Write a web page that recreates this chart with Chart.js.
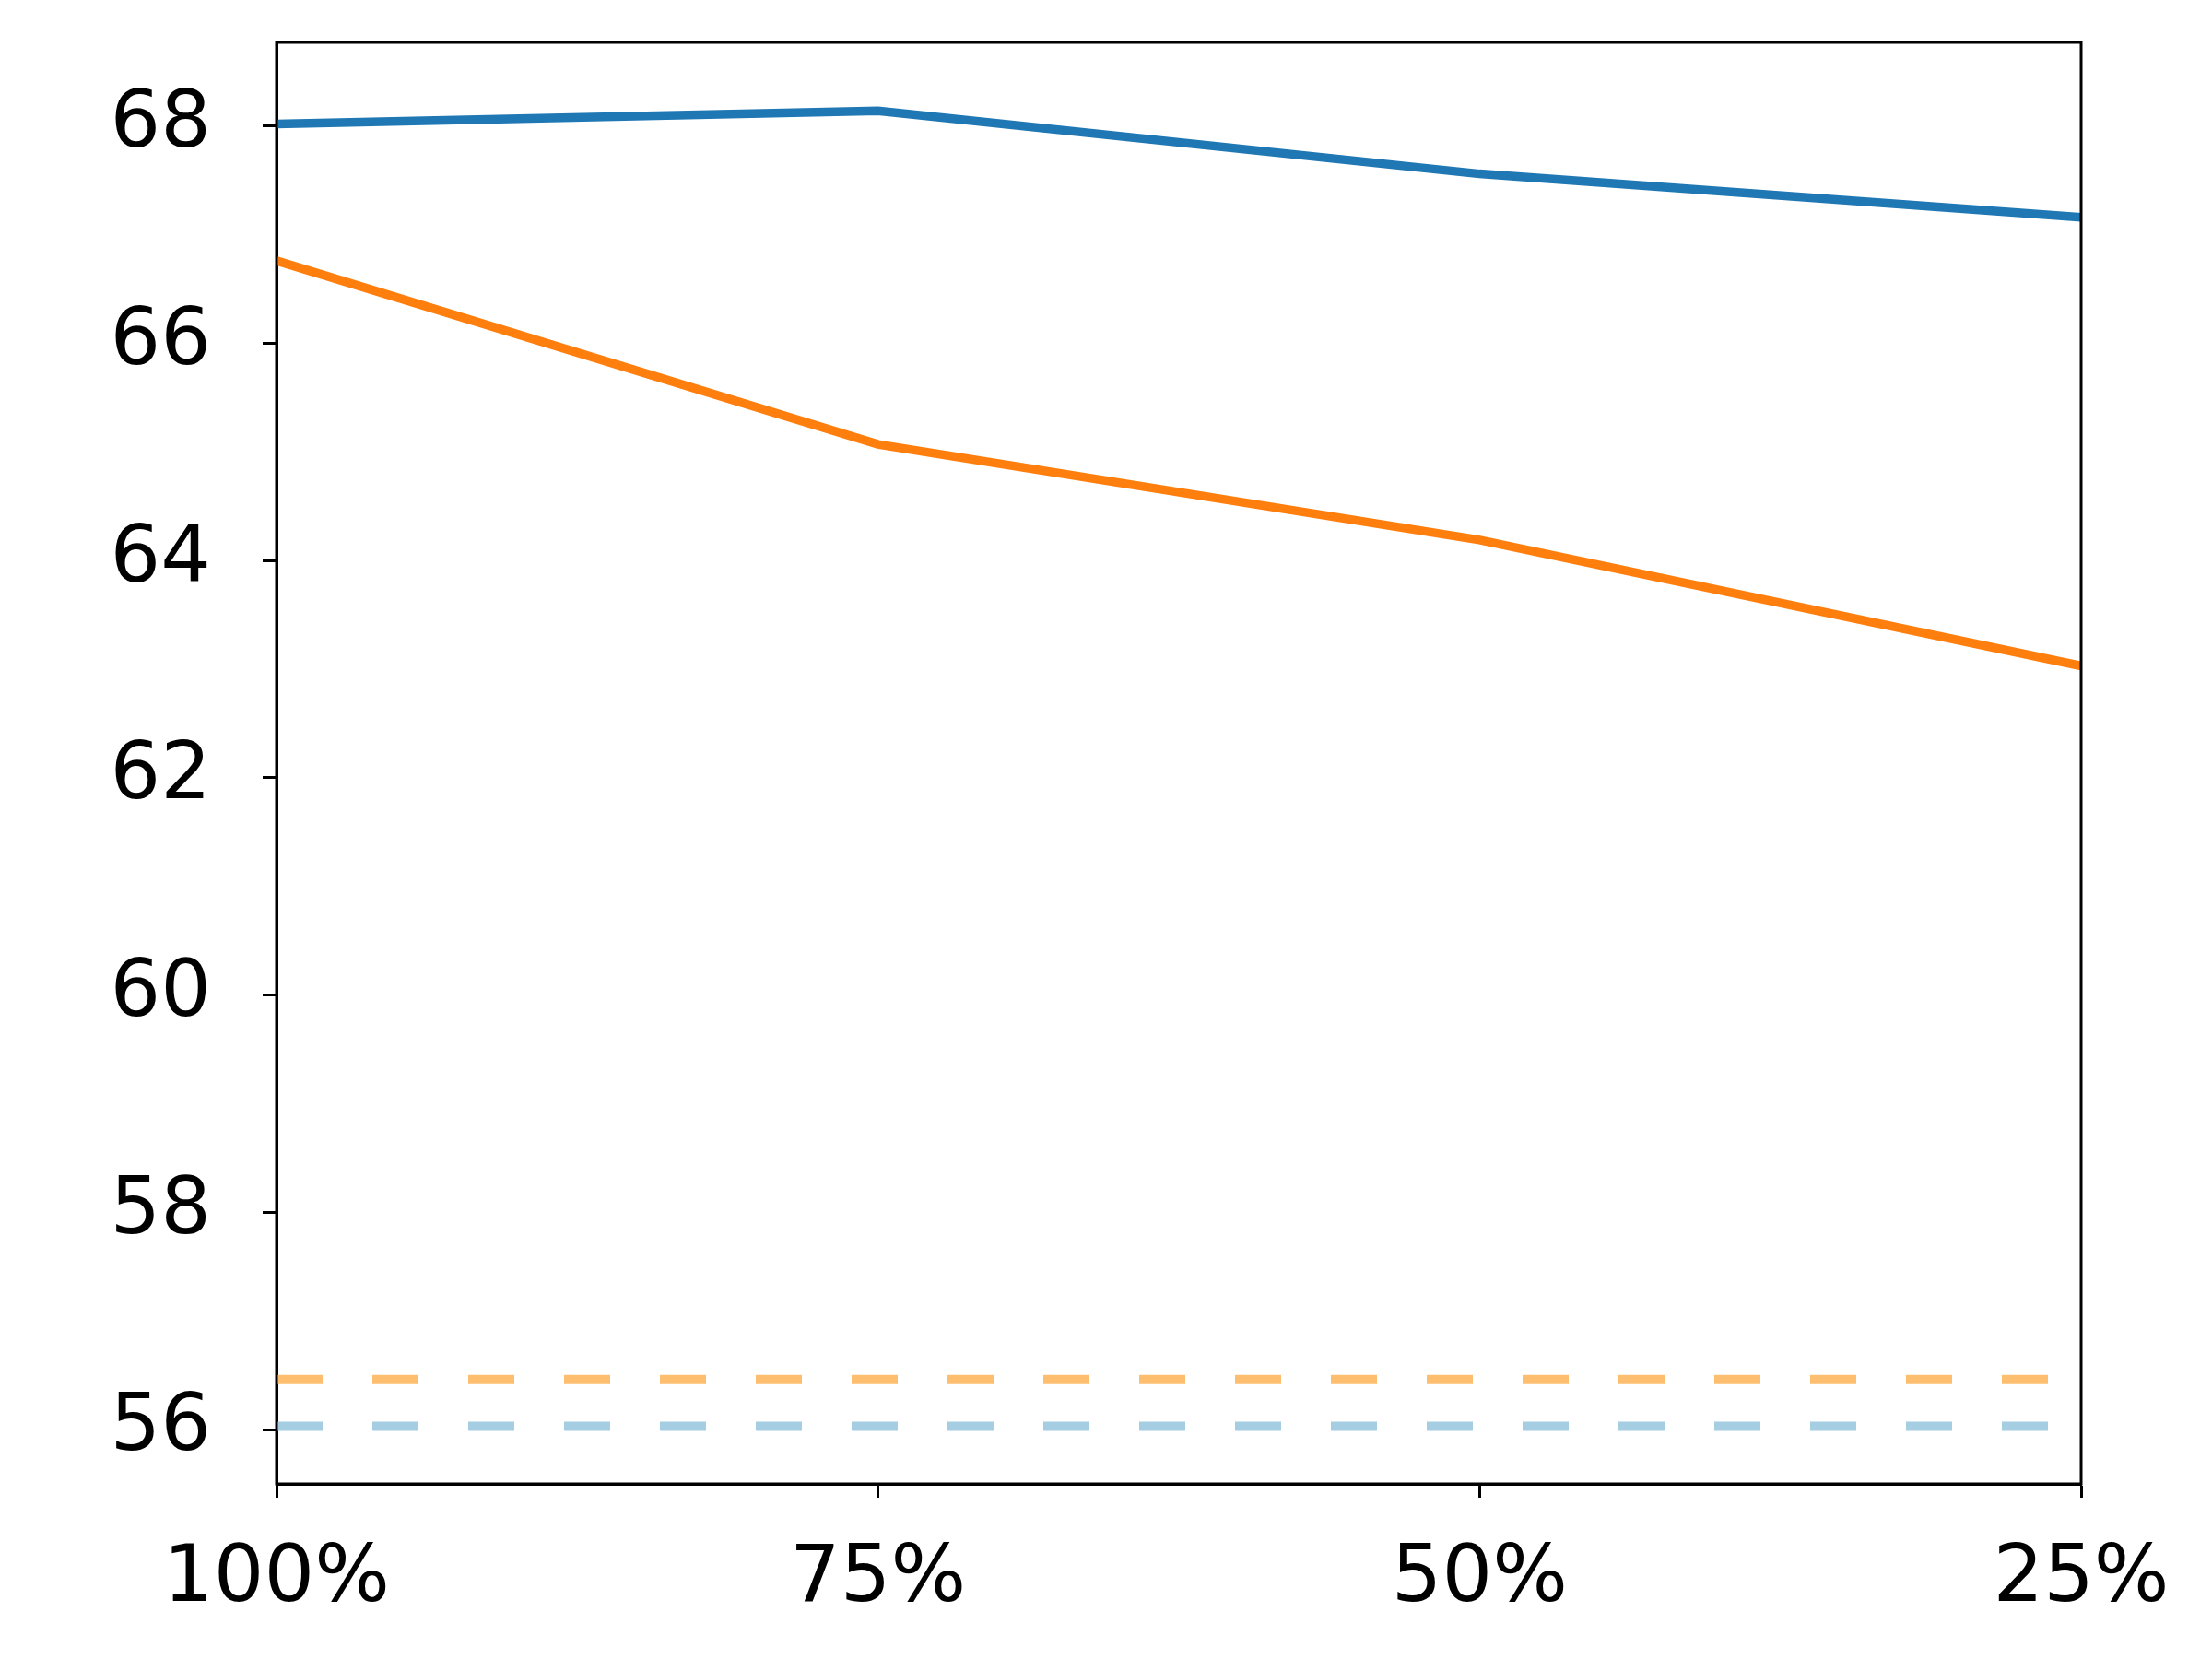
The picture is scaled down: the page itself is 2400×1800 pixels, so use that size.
<!DOCTYPE html>
<html>
<head>
<meta charset="utf-8">
<script src="https://cdn.jsdelivr.net/npm/chart.js@4/dist/chart.umd.min.js"></script>
<style>
  html, body { margin: 0; padding: 0; background: #fff; }
  #wrap { width: 2400px; height: 1800px; }
</style>
</head>
<body>
<div id="wrap"><canvas id="myChart1" width="2400" height="1800"></canvas></div>
<script>
// values
const labels = ['100%', '75%', '50%', '25%']
const blueLine = [68.02, 68.14, 67.56, 67.16]
const orangeLine = [66.76, 65.07, 64.19, 63.03]
const orangeBase = [56.46, 56.46, 56.46, 56.46]
const blueBase = [56.03, 56.03, 56.03, 56.03]
const yTicks = [56, 58, 60, 62, 64, 66, 68]

// draws the box around the plot area (top + right sides)
const frame = {
    id: 'frame',
    afterDatasetsDraw(chart) {
        const a = chart.chartArea
        const c = chart.ctx
        c.save()
        c.strokeStyle = '#000'
        c.lineWidth = 3
        c.strokeRect(a.left, a.top, a.right - a.left, a.bottom - a.top)
        c.restore()
    }
}

const ctx = document.getElementById('myChart1').getContext('2d')
const chart = new Chart(ctx, {
    type: 'line',
    data: {
        labels: labels,
        datasets: [
            { data: orangeBase, borderColor: '#fdbf6f', borderWidth: 10, borderDash: [50, 54], borderCapStyle: 'butt', pointRadius: 0 },
            { data: blueBase, borderColor: '#a6cee3', borderWidth: 10, borderDash: [50, 54], borderCapStyle: 'butt', pointRadius: 0 },
            { data: orangeLine, borderColor: '#ff7f0e', borderWidth: 9.5, pointRadius: 0 },
            { data: blueLine, borderColor: '#1f77b4', borderWidth: 9.5, pointRadius: 0 }
        ]
    },
    options: {
        responsive: false,
        animation: false,
        layout: { padding: { left: 0, right: 142, top: 46, bottom: 0 } },
        plugins: { legend: { display: false }, tooltip: { enabled: false } },
        scales: {
            x: {
                offset: false,
                afterFit: (s) => { s.height = 190 },
                border: { display: true, color: '#000', width: 3 },
                grid: { drawOnChartArea: false, drawTicks: true, tickLength: 15, tickColor: '#000', tickWidth: 3 },
                ticks: { color: '#000', padding: 38, maxRotation: 0, autoSkip: false, font: { family: 'DejaVu Sans', size: 86 } }
            },
            y: {
                min: 55.5,
                max: 68.77,
                afterFit: (s) => { s.width = 300; s.paddingTop = 0; s.paddingBottom = 0 },
                afterBuildTicks: (s) => { s.ticks = yTicks.map(v => ({ value: v })) },
                border: { display: true, color: '#000', width: 3 },
                grid: { drawOnChartArea: false, drawTicks: true, tickLength: 15, tickColor: '#000', tickWidth: 3 },
                ticks: { color: '#000', padding: 56, font: { family: 'DejaVu Sans', size: 86 } }
            }
        }
    },
    plugins: [frame]
})
</script>
</body>
</html>
